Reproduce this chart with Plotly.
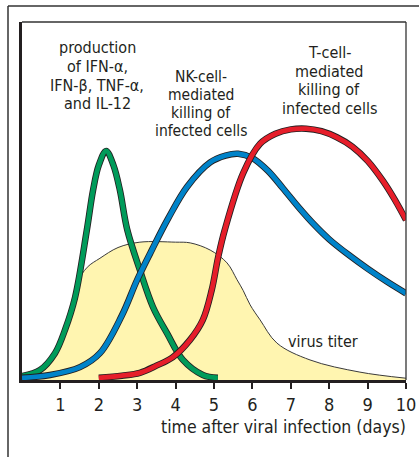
import plotly.graph_objects as go

# ---- data ----
days_ticks = [1, 2, 3, 4, 5, 6, 7, 8, 9, 10]
tick_text = ["1", "2", "3", "4", "5", "6", "7", "8", "9", "10"]

virus_x = [0.0, 0.5, 0.86, 1.12, 1.3, 1.43, 1.7, 2.03, 2.5, 3.07, 4.0, 4.38, 4.9, 5.34, 5.6, 5.76, 5.94, 6.2, 6.64, 7.5, 8.8, 10.0]
virus_y = [0.003, 0.022, 0.07, 0.135, 0.2, 0.27, 0.315, 0.34, 0.37, 0.385, 0.385, 0.383, 0.363, 0.327, 0.28, 0.25, 0.21, 0.168, 0.103, 0.056, 0.022, 0.005]

ifn_x = [0.0, 0.47, 0.86, 1.12, 1.38, 1.69, 1.85, 2.0, 2.19, 2.38, 2.55, 2.74, 3.07, 3.41, 3.78, 4.19, 4.71, 5.1]
ifn_y = [0.011, 0.028, 0.075, 0.14, 0.23, 0.42, 0.53, 0.60, 0.64, 0.60, 0.53, 0.42, 0.307, 0.204, 0.13, 0.056, 0.014, 0.006]

nk_x = [0.0, 0.73, 1.51, 2.03, 2.6, 3.0, 3.39, 3.8, 4.3, 4.9, 5.3, 5.63, 6.0, 6.4, 6.8, 7.2, 7.6, 8.0, 8.5, 9.0, 9.5, 10.0]
nk_y = [0.006, 0.014, 0.036, 0.075, 0.18, 0.28, 0.365, 0.45, 0.54, 0.608, 0.627, 0.632, 0.62, 0.585, 0.535, 0.483, 0.435, 0.393, 0.35, 0.311, 0.275, 0.242]

t_x = [2.0, 2.6, 3.07, 3.5, 3.93, 4.375, 4.71, 4.94, 5.11, 5.28, 5.76, 6.2, 6.6, 7.0, 7.4, 7.8, 8.2, 8.6, 9.0, 9.4, 9.7, 10.0]
t_y = [0.006, 0.012, 0.02, 0.04, 0.064, 0.112, 0.168, 0.251, 0.344, 0.419, 0.578, 0.66, 0.688, 0.70, 0.702, 0.695, 0.678, 0.652, 0.612, 0.556, 0.505, 0.447]

ifn_label = ["production", "of IFN-\u03b1,", "IFN-\u03b2, TNF-\u03b1,", "and IL-12"]
nk_label = ["NK-cell-", "mediated", "killing of", "infected cells"]
t_label = ["T-cell-", "mediated", "killing of", "infected cells"]
virus_label = "virus titer"
x_title = "time after viral infection (days)"

# ---- styling ----
FONT = "DejaVu Sans Condensed, Liberation Sans Narrow, Arial Narrow, Liberation Sans, sans-serif"
INK = "#231F20"
GREEN = "#009B5A"
BLUE = "#0083C9"
RED = "#E61E2A"
YELLOW = "#FFF5B0"

W, H = 419, 457
L, R, T, B = 22, 13, 22, 77
PW, PH = W - L - R, H - T - B

def pyp(px):  # pixel row -> paper y
    return (H - B - px) / PH

def pxp(px):  # pixel column -> paper x
    return (px - L) / PW

fig = go.Figure()

fig.add_trace(go.Scatter(x=virus_x, y=virus_y, mode="lines", fill="tozeroy",
                         fillcolor=YELLOW, line=dict(color="#3a3a3a", width=1, shape="spline", smoothing=1.0),
                         cliponaxis=False, hoverinfo="skip", showlegend=False))

for xs, ys, col in [(ifn_x, ifn_y, GREEN), (nk_x, nk_y, BLUE), (t_x, t_y, RED)]:
    fig.add_trace(go.Scatter(x=xs, y=ys, mode="lines",
                             line=dict(color=INK, width=6.5, shape="spline", smoothing=1.0),
                             cliponaxis=False, hoverinfo="skip", showlegend=False))
    fig.add_trace(go.Scatter(x=xs, y=ys, mode="lines",
                             line=dict(color=col, width=4.8, shape="spline", smoothing=1.0),
                             cliponaxis=False, hoverinfo="skip", showlegend=False))

annotations = []
def add_lines(lines, xc_px, centers_px, size=16):
    for txt, cpx in zip(lines, centers_px):
        annotations.append(dict(x=pxp(xc_px), y=pyp(cpx), xref="paper", yref="paper", text=txt,
                                showarrow=False, xanchor="center", yanchor="middle",
                                font=dict(family=FONT, size=size, color=INK)))

add_lines(ifn_label, 97, [47.5, 66.5, 85, 103.5])
add_lines(nk_label, 201, [76.5, 94.5, 112.5, 130.5], size=15.5)
add_lines(t_label, 329, [52.5, 71, 89.5, 108])
add_lines([virus_label], 323, [341])

annotations.append(dict(x=pxp(408), y=pyp(427), xref="paper", yref="paper", text=x_title, showarrow=False,
                        xanchor="right", yanchor="middle",
                        font=dict(family=FONT, size=17.5, color=INK)))

fig.update_layout(
    width=W, height=H,
    margin=dict(l=L, r=R, t=T, b=B, autoexpand=False),
    paper_bgcolor="white", plot_bgcolor="white",
    showlegend=False,
    annotations=annotations,
    xaxis=dict(range=[0, 10], tickvals=days_ticks, ticktext=tick_text, ticks="outside",
               ticklen=6, tickwidth=1.5, tickcolor=INK, showline=True, linewidth=3, linecolor=INK,
               showgrid=False, zeroline=False, fixedrange=True,
               tickfont=dict(family=FONT, size=18, color=INK)),
    yaxis=dict(range=[0, 1], showticklabels=False, ticks="", showline=True, linewidth=3,
               linecolor=INK, showgrid=False, zeroline=False, fixedrange=True),
    shapes=[
        # thin top and right borders of the plot
        dict(type="line", xref="paper", yref="paper", x0=0, x1=1, y0=1, y1=1, line=dict(color="#333", width=1.3)),
        dict(type="line", xref="paper", yref="paper", x0=1, x1=1, y0=0, y1=1, line=dict(color="#333", width=1.3)),
        # outer frame
        dict(type="line", xref="paper", yref="paper", x0=pxp(8), x1=pxp(430),
             y0=pyp(6), y1=pyp(6), line=dict(color="#333", width=1.5)),
        dict(type="line", xref="paper", yref="paper", x0=pxp(8), x1=pxp(8),
             y0=pyp(470), y1=pyp(6), line=dict(color="#333", width=1.5)),
    ],
)

fig.write_html("out.html", config={"displayModeBar": False},
               post_script="document.body.style.margin='0';document.body.style.overflow='hidden';")
